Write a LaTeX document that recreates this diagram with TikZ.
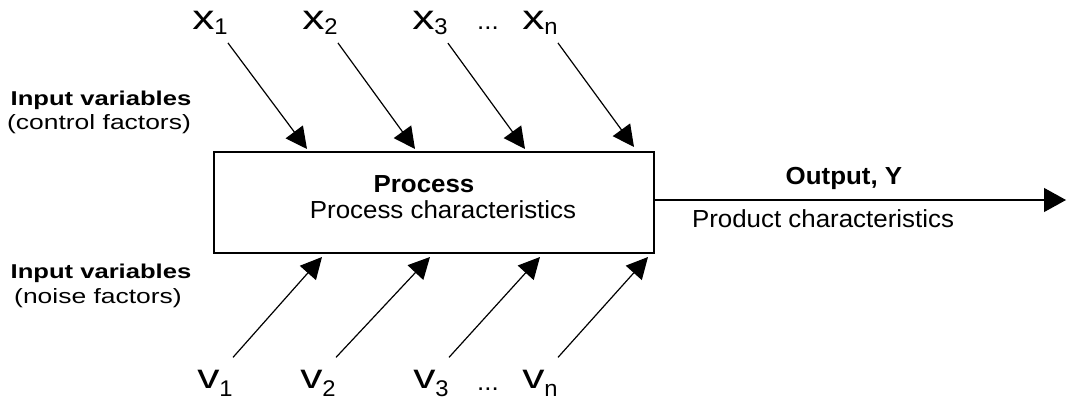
\documentclass[tikz,border=0pt]{standalone}
\usepackage{fontspec}
\setmainfont{Liberation Sans}[FakeStretch=1.05]
\newfontfamily\widefont{Liberation Sans}[FakeStretch=1.28]
\usetikzlibrary{arrows.meta}
\newcommand\mysub[2]{\raisebox{#1}{\rmfamily\fontsize{17}{18}\selectfont #2}}
\begin{document}
\begin{tikzpicture}[x=0.75pt,y=-0.75pt,
  txt/.style={inner sep=0pt, anchor=base, font=\fontsize{18.5}{20}\selectfont},
  btxt/.style={inner sep=0pt, anchor=base, font=\fontsize{18.5}{20}\selectfont\bfseries},
  ltxt/.style={inner sep=0pt, anchor=base, font=\widefont\fontsize{15.5}{17}\selectfont},
  lbtxt/.style={inner sep=0pt, anchor=base, font=\widefont\fontsize{15}{17}\selectfont\bfseries},
  var/.style={inner sep=0pt, anchor=base west, font=\widefont\fontsize{26}{28}\selectfont},
  arr/.style={line width=0.9pt, -{Triangle[length=16pt,width=16pt]}},
  outarr/.style={line width=0.9pt, -{Triangle[length=16.5pt,width=18pt]}},
  boxst/.style={draw, line width=1.4pt, minimum width=330pt, minimum height=75.75pt, inner sep=0pt}
]
\useasboundingbox (0,0) rectangle (1070,406);

% process box
\node[boxst] (box) at (434,202.5) {};
\node[btxt] (proc) at (424,192) {Process};
\node[txt] (pc) at (443,218) {Process characteristics};

% left labels
\node[lbtxt] (iv1) at (101,106) {Input variables};
\node[ltxt] (cf) at (99,130) {(control factors)};
\node[lbtxt] (iv2) at (101,278) {Input variables};
\node[ltxt] (nf) at (98,303) {(noise factors)};

% output
\coordinate (yend) at (1066,200);
\draw[outarr] (box.east |- yend) -- (yend);
\node[btxt] (out) at (844,185) {Output, Y};
\node[txt] (prod) at (823,227) {Product characteristics};

% control factors (top)
\node[var] (x1) at (192,30) {x\mysub{-3.5pt}{1}};
\node[var] (x2) at (302,30) {x\mysub{-3.5pt}{2}};
\node[var] (x3) at (412,30) {x\mysub{-3.5pt}{3}};
\node[txt] (xd) at (488,30) {...};
\node[var] (xn) at (522,30) {x\mysub{-3.5pt}{n}};

\coordinate (tx1) at (307,149);
\coordinate (tx2) at (415,149);
\coordinate (tx3) at (525,149);
\coordinate (txn) at (634,147);

\draw[arr] ([yshift=-6pt]x1.south east) -- (tx1);
\draw[arr] ([yshift=-6pt]x2.south east) -- (tx2);
\draw[arr] ([yshift=-6pt]x3.south east) -- (tx3);
\draw[arr] ([yshift=-6pt]xn.south east) -- (txn);

% noise factors (bottom)
\node[var] (v1) at (197,388) {v\mysub{-6.5pt}{1}};
\node[var] (v2) at (300,388) {v\mysub{-6.5pt}{2}};
\node[var] (v3) at (413,388) {v\mysub{-6.5pt}{3}};
\node[txt] (vd) at (488,390) {...};
\node[var] (vn) at (522,388) {v\mysub{-6.5pt}{n}};

\coordinate (tv1) at (322,257);
\coordinate (tv2) at (430,257);
\coordinate (tv3) at (540,257);
\coordinate (tvn) at (648,257);

\draw[arr] ([yshift=9pt]v1.north east) -- (tv1);
\draw[arr] ([yshift=9pt]v2.north east) -- (tv2);
\draw[arr] ([yshift=9pt]v3.north east) -- (tv3);
\draw[arr] ([yshift=9pt]vn.north east) -- (tvn);
\end{tikzpicture}
\end{document}
